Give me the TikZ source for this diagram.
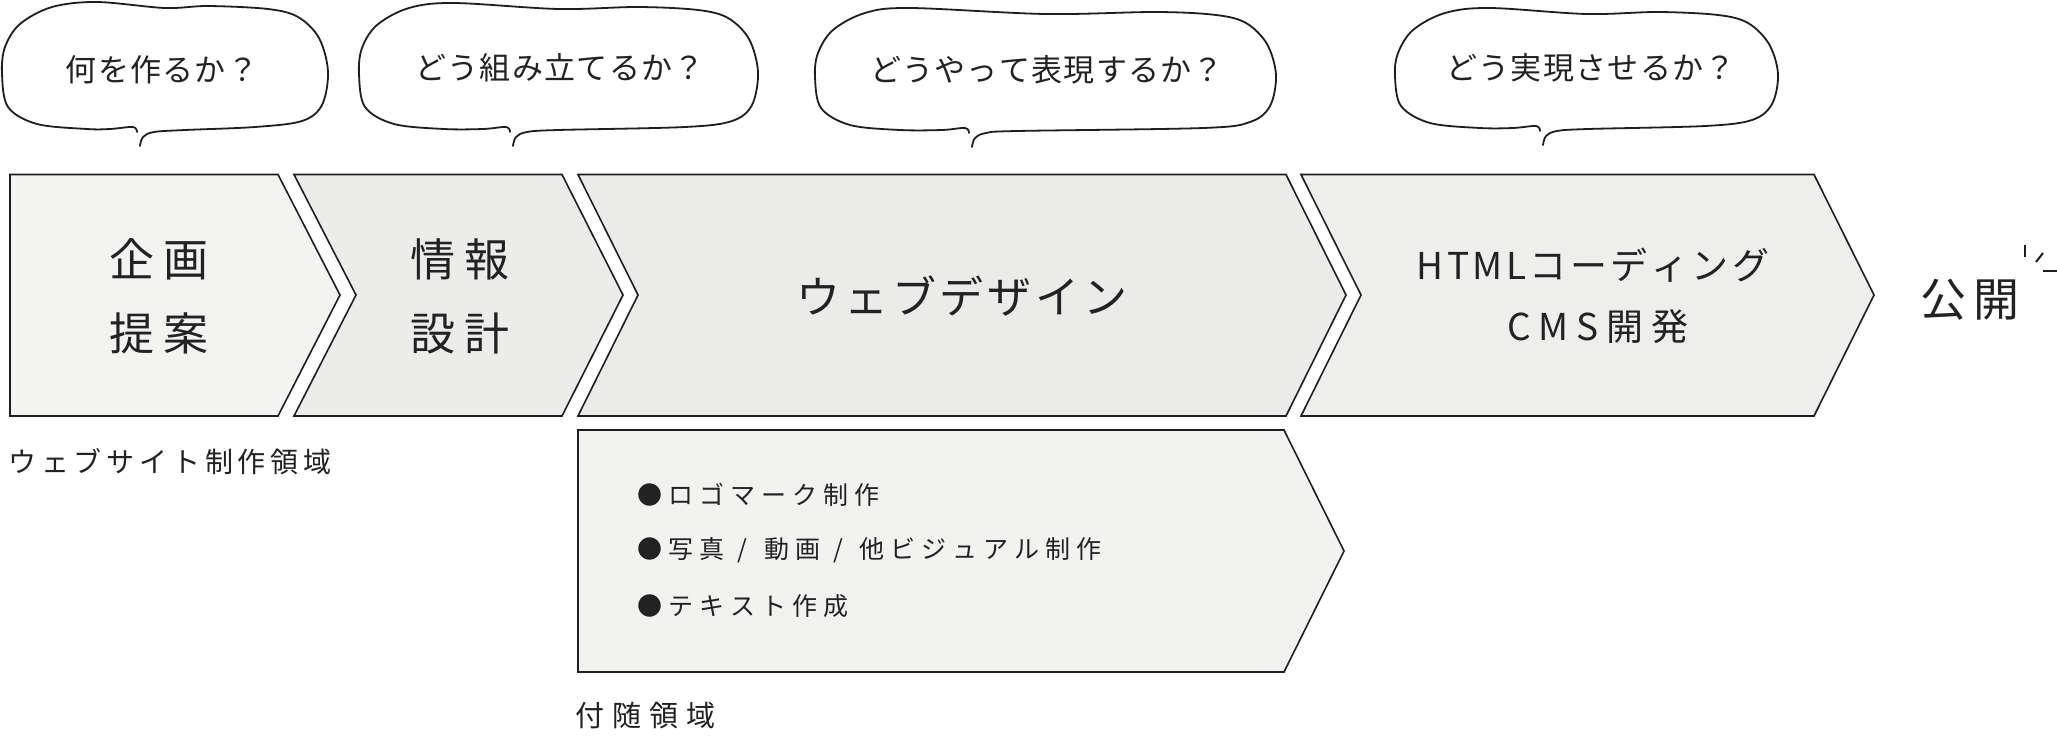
\documentclass[tikz,border=0pt]{standalone}
\usepackage{fontspec}
\newfontfamily\jp{Noto Sans CJK JP}
\makeatletter
\newcommand\spaced[2]{\def\sp@sep{}\@tfor\sp@c:=#2\do{\sp@sep\sp@c\def\sp@sep{\kern#1}}}
\makeatother
\newcommand\jsl{\kern7pt/\kern11pt}
\definecolor{linec}{HTML}{1E1E1E}
\definecolor{textc}{HTML}{222222}
\definecolor{fillA}{HTML}{F3F3F1}
\definecolor{fillB}{HTML}{ECECEA}
\definecolor{fillC}{HTML}{EBEBE9}
\definecolor{fillD}{HTML}{EEEEEC}
\definecolor{fillE}{HTML}{F2F2F0}
\tikzset{
  chev/.style={draw=linec, line width=1.6pt, line join=miter},
  bub/.style={draw=linec, line width=1.8pt, line cap=round, line join=round},
  spark/.style={draw=linec, line width=2pt},
  txt/.style={inner sep=0pt, text=textc},
  tbub/.style={txt, font=\jp\fontsize{31}{36}\selectfont},
  tbig/.style={txt, font=\jp\fontsize{45}{52}\selectfont},
  tmid/.style={txt, font=\jp\fontsize{44}{52}\selectfont},
  thtml/.style={txt, font=\jp\fontsize{37}{44}\selectfont},
  tlab/.style={txt, font=\jp\fontsize{28}{34}\selectfont},
  tbul/.style={txt, anchor=west, font=\jp\fontsize{25}{30}\selectfont},
}
% L R T B X
\newcommand\bubble[5]{%
\draw[bub] plot[smooth,tension=0.55] coordinates {
 ({#5},{#4+17}) ({#5+3},{#4+8}) ({#5+14},{#4+3}) ({#5+45},{#4+1})
 ({#2-73},{#4-2}) ({#2-26},{#4-8}) ({#2-6},{#4-24}) ({#2},{(#3+#4)/2+6})
 ({#2-9},{#3+36}) ({#2-30},{#3+15}) ({#2-60},{#3+7}) ({#2-120},{#3+4})
 ({(#1+#2)/2},{#3+6}) ({#1+95},{#3}) ({#1+50},{#3+5}) ({#1+18},{#3+22})
 ({#1+3},{#3+45}) ({#1},{(#3+#4)/2+8}) ({#1+6},{#4-22}) ({#1+35},{#4-5})
 ({#1+85},{#4}) ({#5-30},{#4}) ({#5-7},{#4-2}) ({#5-3},{#4+3})
};}
\begin{document}
\begin{tikzpicture}[x=1pt,y=-1pt]
\useasboundingbox (0,0) rectangle (2057,737);
\fill[white] (0,0) rectangle (2057,737);

% speech bubbles
\bubble{2}{328}{2}{129}{140}
\bubble{359}{758}{3}{129}{513}
\bubble{815}{1276}{8}{130}{972}
\bubble{1395}{1778}{8}{128}{1543}
\node[tbub] (q1) at (162,70) {\spaced{1.3pt}{何を作るか？}};
\node[tbub] (q2) at (560,68) {\spaced{1.3pt}{どう組み立てるか？}};
\node[tbub] (q3) at (1047,70) {\spaced{1.3pt}{どうやって表現するか？}};
\node[tbub] (q4) at (1591,68) {\spaced{1.3pt}{どう実現させるか？}};

% chevrons
\draw[chev, fill=fillA] (10,174.5) -- (278,174.5) -- (340,295) -- (278,416) -- (10,416) -- cycle;
\draw[chev, fill=fillB] (294,174.5) -- (562,174.5) -- (623,295) -- (562,416) -- (294,416) -- (356,295) -- cycle;
\draw[chev, fill=fillC] (578,174.5) -- (1286,174.5) -- (1346,295) -- (1286,416) -- (578,416) -- (638,295) -- cycle;
\draw[chev, fill=fillD] (1301,174.5) -- (1814,174.5) -- (1874,295) -- (1814,416) -- (1301,416) -- (1361,295) -- cycle;
\draw[chev, fill=fillE] (578,430) -- (1284,430) -- (1344,551) -- (1284,672) -- (578,672) -- cycle;

\node[tbig] (kikaku) at (159,259) {\spaced{10pt}{企画}};
\node[tbig] (teian) at (159,333) {\spaced{10pt}{提案}};
\node[tbig] (joho) at (460,259) {\spaced{10pt}{情報}};
\node[tbig] (sekkei) at (460,333) {\spaced{10pt}{設計}};
\node[tmid] (design) at (962,296) {\spaced{3.7pt}{ウェブデザイン}};
\node[thtml] (html) at (1593,265) {\spaced{3.5pt}{HTMLコーディング}};
\node[thtml] (cms) at (1598,327) {\spaced{8pt}{CMS開発}};
\node[tbig, font=\jp\fontsize{46}{52}\selectfont] (kokai) at (1970,300) {\spaced{7pt}{公開}};
\draw[spark] (2025,245) -- (2025,257);
\draw[spark] (2036,262) -- (2043,253);
\draw[spark] (2043,271) -- (2057,271);

\node[tlab] (web) at (170,462) {\spaced{4.8pt}{ウェブサイト制作領域}};
\node[tlab, font=\jp\fontsize{29}{34}\selectfont] (fuzui) at (645.5,715) {\spaced{8pt}{付随領域}};

\node[tbul] (b1) at (637,495) {\spaced{6pt}{●ロゴマーク制作}};
\node[tbul] (b2) at (637,550) {\spaced{6pt}{●写真\jsl 動画\jsl 他ビジュアル制作}};
\node[tbul] (b3) at (637,606) {\spaced{6pt}{●テキスト作成}};
\end{tikzpicture}
\end{document}
